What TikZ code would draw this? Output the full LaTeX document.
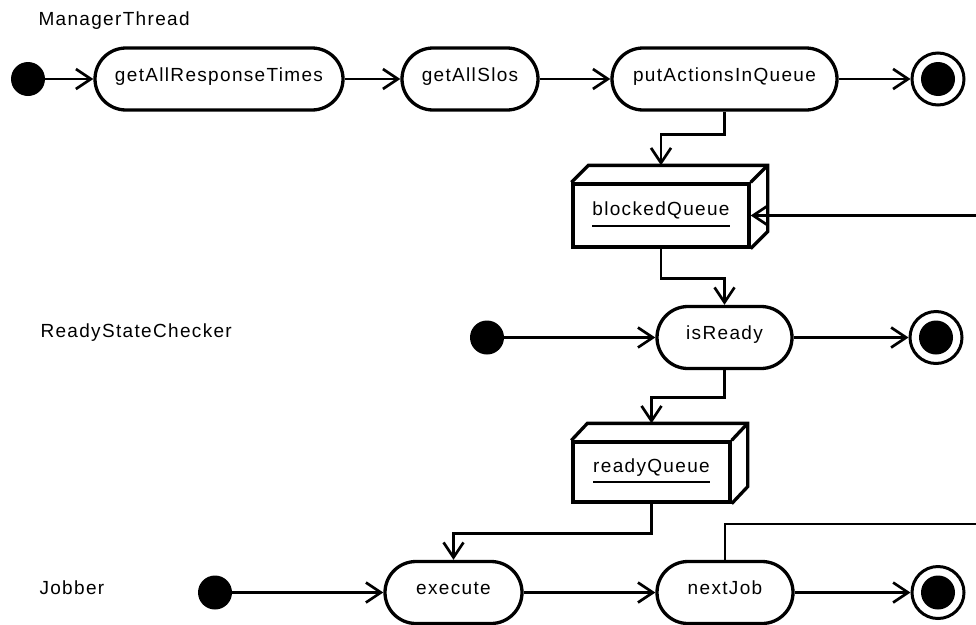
\documentclass[tikz,border=0pt]{standalone}
\usepackage{fontspec}
\setmainfont{Liberation Sans}[LetterSpace=7]
\usetikzlibrary{arrows.meta,calc,positioning}

\newcommand{\objlabel}[1]{\setbox0\hbox{#1}\rlap{\rule[-11pt]{\wd0}{2pt}}\box0}

\begin{document}
\begin{tikzpicture}[x=1pt, y=-1pt,
  font=\fontsize{19}{22}\selectfont,
  action/.style={draw, line width=3.3pt, rounded corners=31pt, minimum height=62pt,
    inner sep=0pt, text height=13pt, text depth=9pt},
  queue/.style={draw, line width=3.3pt, inner sep=0pt, text height=12pt, text depth=12pt},
  initial/.style={circle, fill, minimum size=34pt, inner sep=0pt},
  final/.style={circle, draw, line width=3pt, minimum size=52pt, inner sep=0pt,
    path picture={\fill (path picture bounding box.center) circle (17pt);}},
  flow/.style={line width=2.7pt, -{Straight Barb[length=15pt, width=20pt, line width=2.7pt]}},
  lane/.style={anchor=base west}]
  \useasboundingbox (0,0) rectangle (976,624);

  \node[lane] (mgr) at (35,25) {ManagerThread};
  \node[lane] (rsc) at (37,337) {ReadyStateChecker};
  \node[lane] (job) at (36,594) {Jobber};

  % ManagerThread
  \node[initial] (init1) at (28,79) {};
  \node[action, minimum width=248pt] (getTimes) at (219,79) {getAllResponseTimes};
  \node[action, minimum width=136pt] (getSlos) at (470,79) {getAllSlos};
  \node[action, minimum width=225pt] (putActions) at (724.5,79) {putActionsInQueue};
  \node[final] (end1) at (938,79) {};

  \node[queue, minimum width=176pt, minimum height=63pt] (bq) at (661,215.5) {\objlabel{blockedQueue}};
  \draw[line width=3.3pt] (bq.north west) -- ++(17,-17) -| ($(bq.south east)+(17,-17)$) -- (bq.south east);
  \draw[line width=3.3pt] (bq.north east) -- ++(17,-17);
  \coordinate (bqtop) at ($(bq.north)+(0,-17)$);

  % ReadyStateChecker
  \node[initial] (init2) at (487,337.5) {};
  \node[action, minimum width=135pt] (isReady) at (724.5,337.5) {isReady};
  \node[final] (end2) at (936,337.5) {};

  \node[queue, minimum width=157pt, minimum height=60pt] (rq) at (651.5,472) {\objlabel{readyQueue}};
  \draw[line width=3.3pt] (rq.north west) -- ++(16,-17) -| ($(rq.south east)+(16,-17)$) -- (rq.south east);
  \draw[line width=3.3pt] (rq.north east) -- ++(16,-17);
  \coordinate (rqtop) at ($(rq.north)+(0,-17)$);

  % Jobber
  \node[initial] (init3) at (215,592.5) {};
  \node[action, minimum width=137pt] (execute) at (453.5,592.5) {execute};
  \node[action, minimum width=136pt] (nextJob) at (725,592.5) {nextJob};
  \node[final] (end3) at (938,592.5) {};
  \coordinate (loop) at (995,524);

  \draw[flow] (init1) -- (getTimes);
  \draw[flow] (getTimes) -- (getSlos);
  \draw[flow] (getSlos) -- (putActions);
  \draw[flow] (putActions) -- (end1);
  \draw[flow] (putActions.south) -- ++(0,23) -| (bqtop);
  \draw[flow] (bq.south) -- ++(0,30) -| (isReady.north);
  \draw[flow] (init2) -- (isReady);
  \draw[flow] (isReady) -- (end2);
  \draw[flow] (isReady.south) -- ++(0,27) -| (rqtop);
  \draw[flow] (rq.south) -- ++(0,30) -| (execute.north);
  \draw[flow] (init3) -- (execute);
  \draw[flow] (execute) -- (nextJob);
  \draw[flow] (nextJob) -- (end3);
  \draw[flow] (nextJob.north) |- (loop) |- (bq.east);
\end{tikzpicture}
\end{document}
